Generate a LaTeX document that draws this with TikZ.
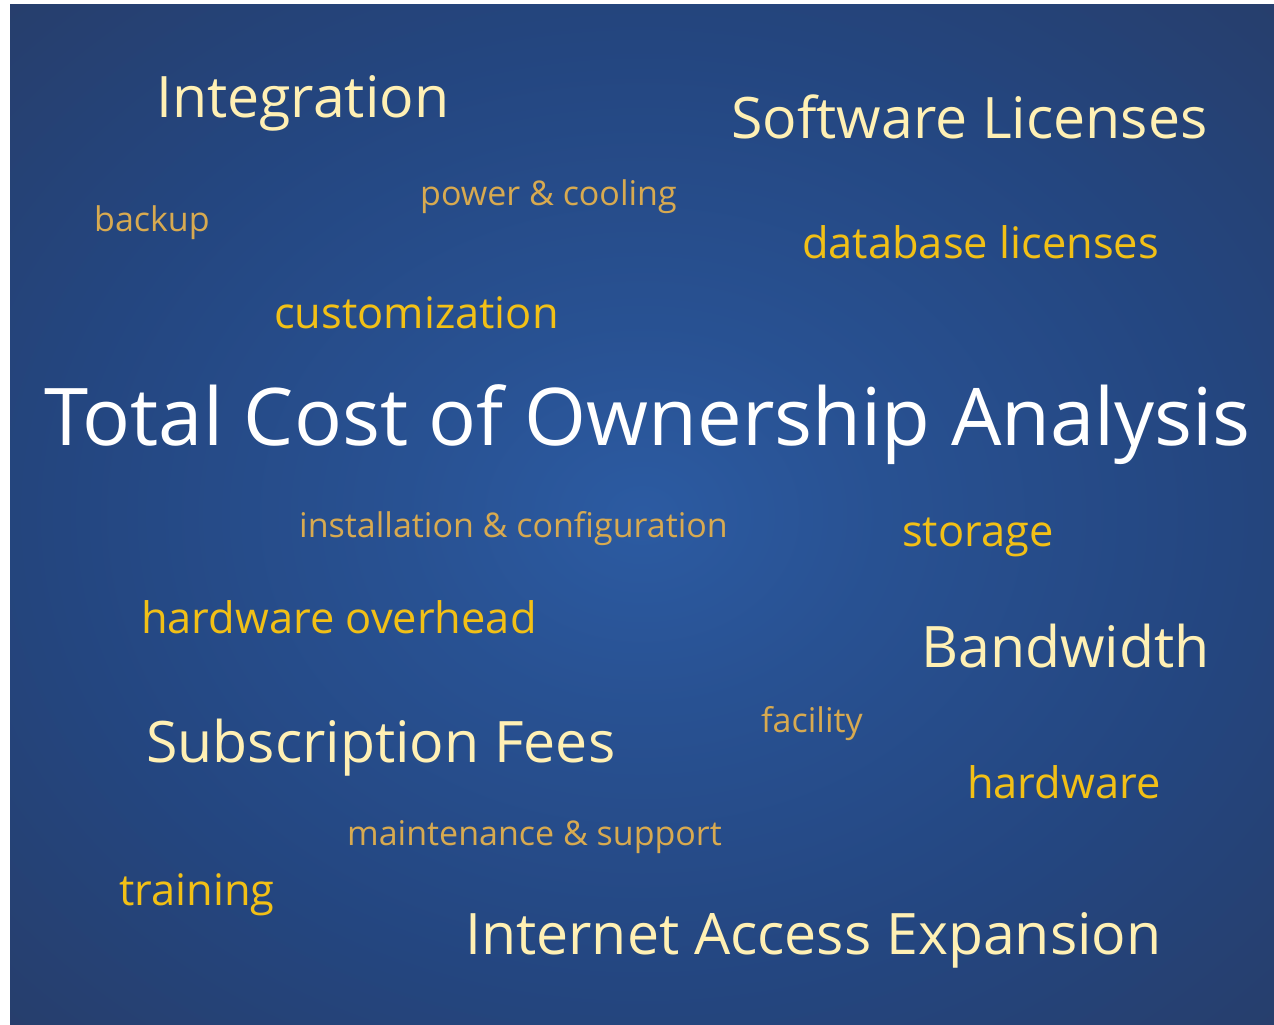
\documentclass[tikz,border=0pt]{standalone}
\usepackage{fontspec}
\setmainfont{Open Sans}
\usetikzlibrary{shadings}
\definecolor{glowcore}{HTML}{2C5BA2}
\definecolor{glowmid}{HTML}{244680}
\definecolor{glowedge}{HTML}{283A62}
\definecolor{creamword}{HTML}{FFF0B4}
\definecolor{goldword}{HTML}{F2C016}
\definecolor{tanword}{HTML}{D8AA50}
\pgfdeclareradialshading{ownglow}{\pgfpoint{0bp}{0bp}}{color(0bp)=(glowcore); color(9bp)=(glowcore!55!glowmid); color(23bp)=(glowmid); color(42bp)=(glowedge); color(50bp)=(glowedge)}
\tikzset{
	word/.style={anchor=base west, inner sep=0pt},
	titleword/.style={word, text=white, font=\fontsize{79.6}{84}\selectfont},
	bigword/.style={word, text=creamword, font=\fontsize{57.2}{60}\selectfont},
	midword/.style={word, text=goldword, font=\fontsize{43.4}{46}\selectfont},
	smallword/.style={word, text=tanword, font=\fontsize{34}{36}\selectfont}
}

\begin{document}
\begin{tikzpicture}[x=1pt, y=-1pt]
		%%%%% START %%%%%
		
		\useasboundingbox (0, 0) rectangle (1274, 1025);
		\fill[white] (0, 0) rectangle (1274, 1025);
		\shade[shading=ownglow] (10, 5) rectangle (1274, 1025);
		
		\node[titleword] (tco) at (44, 445) {Total Cost of Ownership Analysis};
		
		\node[bigword] (integration) at (156, 117) {Integration};
		\node[bigword] (software) at (731, 138) {Software Licenses};
		\node[bigword] (bandwidth) at (921, 667) {Bandwidth};
		\node[bigword] (subscription) at (146, 762) {Subscription Fees};
		\node[bigword] (internet) at (465, 954) {Internet Access Expansion};
		
		\node[midword] (database) at (802, 258) {database licenses};
		\node[midword] (customization) at (274, 328) {customization};
		\node[midword] (storage) at (902, 546) {storage};
		\node[midword] (overhead) at (141, 633) {hardware overhead};
		\node[midword] (hardware) at (967, 798) {hardware};
		\node[midword] (training) at (119, 905) {training};
		
		\node[smallword] (power) at (420, 205) {power \& cooling};
		\node[smallword] (backup) at (94, 231) {backup};
		\node[smallword] (installation) at (299, 537) {installation \& configuration};
		\node[smallword] (facility) at (761, 732) {facility};
		\node[smallword] (maintenance) at (347, 845) {maintenance \& support};
		
		%%%%% END %%%%%
	\end{tikzpicture}
\end{document}
